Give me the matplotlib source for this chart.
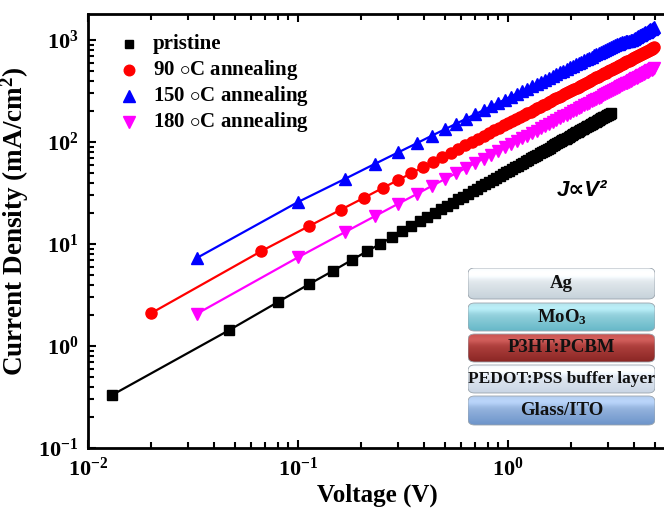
import numpy as np
import matplotlib
matplotlib.use('Agg')
import matplotlib.pyplot as plt
from matplotlib.patches import FancyBboxPatch
from matplotlib.lines import Line2D

plt.rcParams['font.family'] = ['Liberation Serif', 'DejaVu Serif', 'DejaVu Sans']
plt.rcParams['font.weight'] = 'bold'
plt.rcParams['mathtext.fontset'] = 'custom'
plt.rcParams['mathtext.rm'] = 'Liberation Serif:bold'
plt.rcParams['mathtext.bf'] = 'Liberation Serif:bold'
plt.rcParams['mathtext.it'] = 'Liberation Serif:bold:italic'
plt.rcParams['mathtext.default'] = 'bf'
plt.rcParams['axes.unicode_minus'] = False

# ---------------- data ----------------
labels = ['pristine', r'90 $\circ$C annealing', r'150 $\circ$C annealing', r'180 $\circ$C annealing']

v_pristine = [0.013, 0.047, 0.080, 0.113, 0.147, 0.180, 0.213, 0.247, 0.280,
              0.313, 0.347, 0.380, 0.413, 0.447, 0.480, 0.513, 0.547, 0.580,
              0.613, 0.647, 0.680, 0.713, 0.747, 0.780, 0.813, 0.847, 0.880,
              0.913, 0.947, 0.980, 1.013, 1.047, 1.080, 1.113, 1.147, 1.180,
              1.213, 1.247, 1.280, 1.313, 1.347, 1.380, 1.413, 1.447, 1.480,
              1.513, 1.547, 1.580, 1.613, 1.647, 1.680, 1.713, 1.747, 1.780,
              1.813, 1.847, 1.880, 1.913, 1.947, 1.980, 2.013, 2.047, 2.080,
              2.113, 2.147, 2.180, 2.213, 2.247, 2.280, 2.313, 2.347, 2.380,
              2.413, 2.447, 2.480, 2.513, 2.547, 2.580, 2.613, 2.647, 2.680,
              2.713, 2.747, 2.780, 2.813, 2.847, 2.880, 2.913, 2.947, 2.980,
              3.013, 3.047, 3.080]
j_pristine = [0.33, 1.43, 2.69, 4.04, 5.47, 6.95, 8.48, 10.05, 11.66, 13.3,
              14.97, 16.67, 18.39, 20.14, 21.9, 23.69, 25.5, 27.33, 29.17, 31.04,
              32.92, 34.82, 36.73, 38.66, 40.59, 42.55, 44.51, 46.5, 48.49, 50.49,
              52.51, 54.53, 56.57, 58.62, 60.68, 62.75, 64.83, 66.92, 69.02, 71.13,
              73.25, 75.38, 77.51, 79.65, 81.8, 83.96, 86.13, 88.3, 90.48, 92.67,
              94.86, 97.06, 99.27, 101.5, 103.7, 105.9, 108.2, 110.4, 112.6, 114.9,
              117.2, 119.4, 121.7, 124.0, 126.2, 128.5, 130.8, 133.1, 135.4, 137.7,
              140.0, 142.3, 144.6, 147.0, 149.3, 151.6, 154.0, 156.3, 158.6, 161.0,
              163.4, 165.7, 168.1, 170.5, 172.8, 175.2, 177.6, 180.0, 182.4, 184.8,
              187.2, 189.6, 192.0]

v_90 = [0.020, 0.067, 0.113, 0.160, 0.207, 0.253, 0.300, 0.347, 0.393,
        0.440, 0.487, 0.533, 0.580, 0.627, 0.673, 0.720, 0.767, 0.813,
        0.860, 0.907, 0.953, 1.000, 1.047, 1.093, 1.140, 1.187, 1.233,
        1.280, 1.327, 1.373, 1.420, 1.467, 1.513, 1.560, 1.607, 1.653,
        1.700, 1.747, 1.793, 1.840, 1.887, 1.933, 1.980, 2.027, 2.073,
        2.120, 2.167, 2.213, 2.260, 2.307, 2.353, 2.400, 2.447, 2.493,
        2.540, 2.587, 2.633, 2.680, 2.727, 2.773, 2.820, 2.867, 2.913,
        2.960, 3.007, 3.053, 3.100, 3.147, 3.193, 3.240, 3.287, 3.333,
        3.380, 3.427, 3.473, 3.520, 3.567, 3.613, 3.660, 3.707, 3.753,
        3.800, 3.847, 3.893, 3.940, 3.987, 4.033, 4.080, 4.127, 4.173,
        4.220, 4.267, 4.313, 4.360, 4.407, 4.453, 4.500, 4.547, 4.593,
        4.640, 4.687, 4.733, 4.780, 4.827, 4.873, 4.920, 4.967]
j_90 = [2.1, 8.53, 15.0, 21.7, 28.5, 35.4, 42.4, 49.5, 56.6, 63.8,
        71.0, 78.3, 85.6, 93.0, 100.4, 107.8, 115.3, 122.8, 130.3, 137.8,
        145.4, 153.0, 160.6, 168.3, 175.9, 183.6, 191.3, 199.0, 206.8, 214.5,
        222.3, 230.1, 237.9, 245.8, 253.6, 261.5, 269.4, 277.3, 285.2, 293.1,
        301.0, 309.0, 316.9, 324.9, 332.9, 340.9, 348.9, 356.9, 365.0, 373.0,
        381.1, 389.1, 397.2, 405.3, 413.4, 421.5, 429.6, 437.7, 445.8, 454.0,
        462.1, 470.3, 478.4, 486.6, 494.8, 503.0, 511.2, 519.4, 527.6, 535.8,
        544.0, 552.3, 560.5, 568.8, 577.0, 585.3, 593.6, 601.9, 610.2, 618.5,
        626.8, 635.1, 643.4, 651.7, 660.0, 668.4, 676.7, 685.1, 693.4, 701.8,
        710.2, 718.5, 726.9, 735.3, 743.7, 752.1, 760.5, 768.9, 777.3, 785.7,
        794.1, 802.6, 811.0, 819.4, 827.9, 836.3, 844.8]

v_150 = [0.033, 0.100, 0.167, 0.233, 0.300, 0.367, 0.433, 0.500, 0.567, 0.633,
         0.700, 0.767, 0.833, 0.900, 0.967, 1.033, 1.100, 1.167, 1.233, 1.300,
         1.367, 1.433, 1.500, 1.567, 1.633, 1.700, 1.767, 1.833, 1.900, 1.967,
         2.033, 2.100, 2.167, 2.233, 2.300, 2.367, 2.433, 2.500, 2.567, 2.633,
         2.700, 2.767, 2.833, 2.900, 2.967, 3.033, 3.100, 3.167, 3.233, 3.300,
         3.367, 3.433, 3.500, 3.567, 3.633, 3.700, 3.767, 3.833, 3.900, 3.967,
         4.033, 4.100, 4.167, 4.233, 4.300, 4.367, 4.433, 4.500, 4.567, 4.633,
         4.700, 4.767, 4.833, 4.900, 4.967]
j_150 = [7.3, 25.8, 43.4, 61.2, 79.1, 97.0, 115.1, 133.1, 151.3, 169.4,
         187.7, 205.9, 224.2, 242.5, 260.8, 279.2, 297.6, 316.0, 334.4, 352.9,
         371.3, 389.8, 408.3, 426.8, 445.4, 463.9, 482.4, 501.0, 519.6, 538.2,
         556.8, 575.5, 594.1, 612.8, 631.4, 650.1, 668.8, 687.5, 706.2, 724.9,
         743.7, 762.4, 781.1, 799.8, 818.6, 837.4, 856.2, 874.9, 893.8, 912.6,
         923.6, 934.5, 945.4, 956.1, 966.8, 977.5, 988.0, 998.5, 1008.7, 1028.8,
         1048.9, 1068.9, 1089.2, 1109.4, 1129.7, 1150.1, 1170.5, 1191.0, 1211.3, 1231.9,
         1252.5, 1273.1, 1293.8, 1314.5, 1335.3]

v_180 = list(v_150)
j_180 = [2.07, 7.4, 13.05, 18.8, 24.8, 30.8, 37.0, 43.2, 49.5, 55.9,
         62.4, 68.9, 75.4, 82.0, 88.7, 95.4, 102.1, 108.8, 115.6, 122.5,
         129.3, 136.2, 143.1, 150.1, 157.1, 164.0, 171.1, 178.1, 185.2, 192.3,
         199.4, 206.6, 213.7, 220.9, 228.1, 235.3, 242.5, 249.8, 257.0, 264.3,
         271.6, 278.9, 286.3, 293.6, 301.0, 308.4, 315.8, 323.2, 330.6, 338.1,
         345.5, 353.0, 360.4, 367.9, 375.4, 383.0, 390.5, 398.1, 405.6, 413.1,
         420.7, 428.3, 435.9, 443.5, 451.1, 458.7, 466.4, 474.0, 481.7, 489.4,
         497.0, 504.7, 512.4, 520.1, 527.8]

layer_names = ['Ag', r'MoO$_3$', 'P3HT:PCBM', 'PEDOT:PSS buffer layer', 'Glass/ITO']

# ---------------- figure ----------------
W, H = 664, 516
fig = plt.figure(figsize=(W / 100, H / 100), dpi=100)
ax = fig.add_axes([88 / W, 68 / H, 578 / W, 434 / H])

series = [
    (v_pristine, j_pristine, 'k', 's', 6.8),
    (v_90, j_90, '#ff0000', 'o', 8.0),
    (v_150, j_150, '#0000ff', '^', 9.0),
    (v_180, j_180, '#ff00ff', 'v', 9.0),
]
for (v, j, c, m, ms), lab in zip(series, labels):
    ax.plot(v, j, '-', color=c, lw=1.6, marker=m, ms=ms, mec=c, mfc=c, zorder=3, label=lab)

ax.set_xscale('log')
ax.set_yscale('log')
ax.set_xlim(0.01, 10 ** (578 / 210 - 2))
ax.set_ylim(0.1, 10 ** (3 + 26 / 102))

for s in ax.spines.values():
    s.set_linewidth(2.0)
ax.tick_params(which='both', direction='in', top=True, right=False, width=1.5)
ax.tick_params(which='major', length=6, labelsize=16, pad=7)
ax.tick_params(which='minor', length=4)

ax.set_xlabel('Voltage (V)', fontsize=18, fontweight='bold', labelpad=2)
ax.set_ylabel(r'Current Density (mA/cm$^2$)', fontsize=19.5, fontweight='bold')
ax.yaxis.set_label_coords((31 - 88) / 578, (448 - 221) / 434)

# legend: evenly spaced rows (marker + label)
row_y = [44, 70, 96, 122]
for (v, j, c, m, ms), lab, yy in zip(series, labels, row_y):
    fig.add_artist(Line2D([129 / W], [1 - yy / H], transform=fig.transFigure, ls='none',
                          marker=m, ms=ms * 0.95, color=c))
    fig.text(153 / W, 1 - (yy + 5.5) / H, lab, ha='left', va='baseline',
             fontsize=15, fontweight='bold')

fig.text(582 / W, 1 - 190 / H, 'J\u221dV\u00b2', family=['Liberation Sans', 'DejaVu Sans'],
         weight='bold', style='italic', fontsize=16, ha='center', va='center')

# ---------------- device stack inset ----------------
x0p, x1p, y0p, y1p = 468, 655, 268, 432
iax = fig.add_axes([x0p / W, 1 - y1p / H, (x1p - x0p) / W, (y1p - y0p) / H])
iax.set_xlim(0, 1)
iax.set_ylim(0, 1)
iax.axis('off')

layer_px = [(268, 299), (303, 331), (334, 362), (365, 393), (396, 425)]
layer_cols = [('#f6f8fa', '#c6d2da'), ('#b4e2ea', '#66b8c8'), ('#c9524f', '#8a2624'),
              ('#f2f5fa', '#c9d5e4'), ('#b2cbec', '#6d94ca')]
hgt = y1p - y0p
for (ta, tb), (ctop, cbot), name in zip(layer_px, layer_cols, layer_names):
    yb = (y1p - tb) / hgt
    hh = (tb - ta) / hgt
    patch = FancyBboxPatch((0.0, yb), 1.0, hh, boxstyle='round,pad=0,rounding_size=0.035',
                           mutation_aspect=1.0, fc='none', ec='#9aa4ad', lw=0.6, zorder=3)
    iax.add_patch(patch)
    c1 = np.array(matplotlib.colors.to_rgb(ctop))
    c2 = np.array(matplotlib.colors.to_rgb(cbot))
    t = np.linspace(0, 1, 64)[:, None]
    grad = (c1[None, :] * (1 - t) + c2[None, :] * t)
    grad = np.clip(grad + 0.08 * np.exp(-((t - 0.2) / 0.15) ** 2), 0, 1)
    img = iax.imshow(grad[:, None, :], extent=(0, 1, yb, yb + hh), aspect='auto',
                     origin='upper', zorder=2)
    img.set_clip_path(patch)
    fs = 12.5 if name.startswith('PEDOT') else 13.5
    iax.text(0.5, yb + hh / 2, name, ha='center', va='center', fontsize=fs,
             fontweight='bold', color='#111111', zorder=4)

fig.savefig('out.png', dpi=100)
